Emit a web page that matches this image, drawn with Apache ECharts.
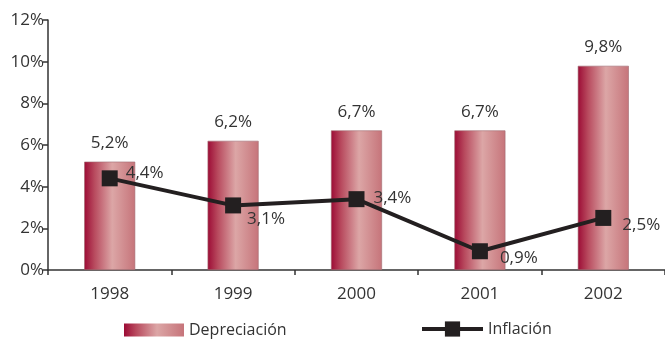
<!DOCTYPE html>
<html>
<head>
<meta charset="utf-8">
<script src="https://cdn.jsdelivr.net/npm/echarts@6/dist/echarts.min.js"></script>
<style>
  html, body { margin: 0; padding: 0; background: #fff; }
  #chart { width: 665px; height: 339px; }
</style>
</head>
<body>
<div id="chart"></div>
<script>
// Annual figures, in percent
const years = ['1998', '1999', '2000', '2001', '2002'];
const depreciacion = [5.2, 6.2, 6.7, 6.7, 9.8];
const inflacion = [4.4, 3.1, 3.4, 0.9, 2.5];
const yTicks = [0, 2, 4, 6, 8, 10, 12];

// Where each inflation label sits relative to its point
const inflLabelOffsets = [[3, -5], [1, 14], [4, -1], [7, 7], [6, 7]];

const fmt = v => v.toFixed(1).replace('.', ',') + '%';
const FONT = 'Open Sans';
const TEXT = '#333333';
const SIZE = 17;

const barGradient = new echarts.graphic.LinearGradient(0, 0, 1, 0, [
  { offset: 0, color: '#9c0b35' },
  { offset: 0.2, color: '#b84a5e' },
  { offset: 0.55, color: '#dca6a6' },
  { offset: 1, color: '#c6747a' }
]);

// legend text sits a little above the centre of its key
const legendText = { fontFamily: FONT, fontSize: 16, color: TEXT, padding: [0, 0, 6, 0] };

const chart = echarts.init(document.getElementById('chart'), null, { renderer: 'canvas' });
chart.setOption({
  animation: false,
  textStyle: { fontFamily: FONT },
  grid: { left: 48, top: 20, width: 620, height: 250, containLabel: false },
  legend: [
    {
      left: 124,
      top: 322,
      padding: 0,
      itemWidth: 60,
      itemHeight: 13,
      textStyle: legendText,
      data: [{ name: 'Depreciación', icon: 'rect', itemStyle: { color: barGradient, borderWidth: 0 } }]
    },
    {
      left: 420,
      top: 321,
      padding: 0,
      itemWidth: 61,
      itemHeight: 19,
      textStyle: legendText,
      lineStyle: { width: 4, color: '#231f20' },
      data: [{ name: 'Inflación' }]
    }
  ],
  xAxis: {
    type: 'category',
    data: years,
    axisLine: { lineStyle: { color: TEXT, width: 1.5 } },
    axisTick: { show: true, length: 5, lineStyle: { color: TEXT, width: 1.5 } },
    axisLabel: { color: TEXT, fontSize: SIZE, margin: 16, fontFamily: FONT }
  },
  yAxis: {
    type: 'value',
    min: yTicks[0],
    max: yTicks[yTicks.length - 1],
    interval: yTicks[1] - yTicks[0],
    splitLine: { show: false },
    axisLine: { show: true, lineStyle: { color: TEXT, width: 1.5 } },
    axisTick: { show: true, length: 5, lineStyle: { color: TEXT, width: 1.5 } },
    axisLabel: { color: TEXT, fontSize: SIZE, margin: 4, fontFamily: FONT, formatter: v => v + '%' }
  },
  series: [
    {
      name: 'Depreciación',
      type: 'bar',
      data: depreciacion,
      barWidth: 51,
      itemStyle: { color: barGradient, borderColor: '#a06a70', borderWidth: 0.6 },
      label: {
        show: true,
        position: 'top',
        distance: 10,
        color: TEXT,
        fontSize: SIZE,
        fontFamily: FONT,
        formatter: p => fmt(p.value)
      }
    },
    {
      name: 'Inflación',
      type: 'line',
      data: inflacion.map((v, i) => ({
        value: v,
        label: { offset: inflLabelOffsets[i] }
      })),
      symbol: 'rect',
      symbolSize: 16,
      lineStyle: { color: '#231f20', width: 4 },
      itemStyle: { color: '#231f20' },
      label: {
        show: true,
        position: 'right',
        distance: 5,
        color: TEXT,
        fontSize: SIZE,
        fontFamily: FONT,
        formatter: p => fmt(p.value)
      },
      z: 5
    }
  ]
});
</script>
</body>
</html>
